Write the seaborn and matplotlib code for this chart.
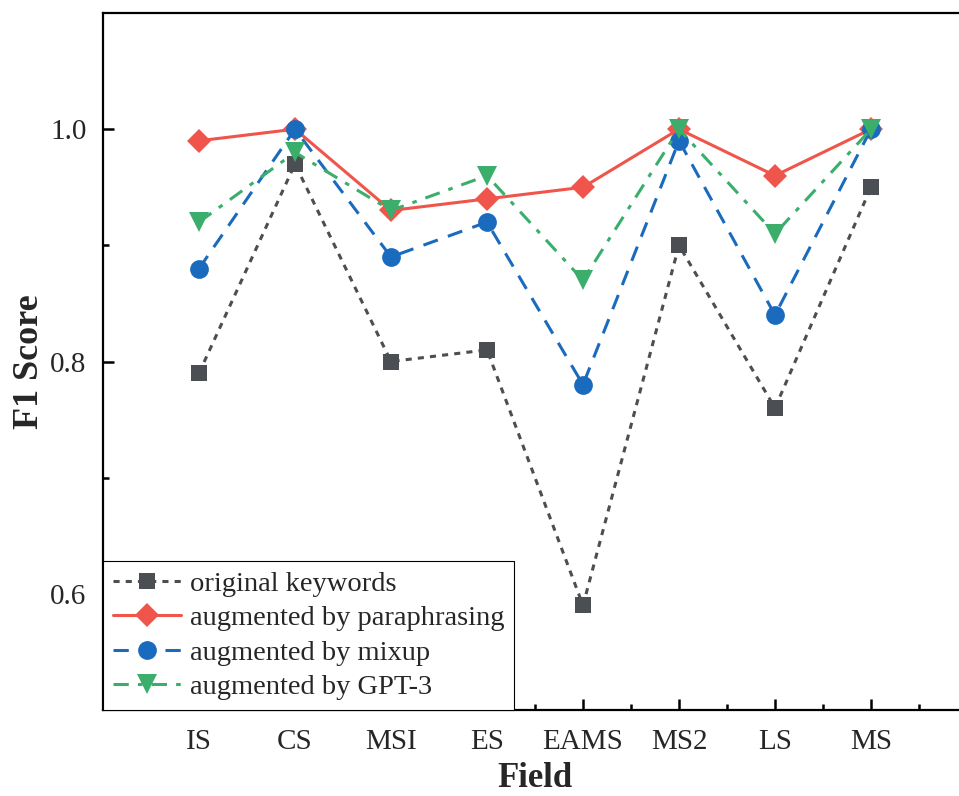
import numpy as np
import pandas as pd
import matplotlib
matplotlib.use("Agg")
import matplotlib.pyplot as plt
import seaborn as sns

# ==================================================
# DATA
# ==================================================

fields = ["IS", "CS", "MSI", "ES", "EAMS", "MS2", "LS", "MS"]

original = [0.79, 0.97, 0.80, 0.81, 0.59, 0.90, 0.76, 0.95]
paraphrasing = [0.99, 1.00, 0.93, 0.94, 0.95, 1.00, 0.96, 1.00]
mixup = [0.88, 1.00, 0.89, 0.92, 0.78, 0.99, 0.84, 1.00]
gpt3 = [0.92, 0.98, 0.93, 0.96, 0.87, 1.00, 0.91, 1.00]

series = [
    ("original keywords", original, "#4b4f53", "s", (0, (2, 2)), 12),
    ("augmented by paraphrasing", paraphrasing, "#f0554b", "D", "-", 12),
    ("augmented by mixup", mixup, "#1a6bbd", "o", (0, (5, 3.5)), 13.5),
    ("augmented by GPT-3", gpt3, "#3bae6c", "v", (0, (5, 3, 1.5, 3)), 14),
]

# ==================================================
# PLOT
# ==================================================

sns.set_style("ticks")
plt.rcParams["font.family"] = ["Liberation Serif", "DejaVu Serif"]

fig = plt.figure(figsize=(9.59, 7.96), dpi=100)
ax = fig.add_axes([103 / 959, 1 - 710 / 796, 864 / 959, (710 - 13) / 796])

xpos = np.arange(1, len(fields) + 1)

for name, values, color, marker, ls, ms in series:
    sns.lineplot(
        x=xpos,
        y=values,
        ax=ax,
        color=color,
        marker=marker,
        markersize=ms,
        markeredgewidth=0,
        linestyle=ls,
        linewidth=2.2,
        label=name,
    )

ax.set_xlim(0, 9)
ax.set_ylim(0.5, 1.1)

ax.set_xticks(xpos)
ax.set_xticklabels(fields)
ax.set_xticks(np.arange(0.5, 9, 1), minor=True)
ax.set_yticks([0.6, 0.8, 1.0])
ax.set_yticklabels(["0.6", "0.8", "1.0"])
ax.set_yticks([0.7, 0.9], minor=True)

ax.tick_params(axis="both", which="major", direction="in", length=8,
               width=1.8, labelsize=21, color="black")
ax.tick_params(axis="x", which="major", pad=14)
ax.tick_params(axis="y", which="major", pad=12)
ax.tick_params(axis="both", which="minor", direction="in", length=4.5,
               width=1.8, color="black")

for spine in ax.spines.values():
    spine.set_linewidth(1.6)
    spine.set_color("black")
    spine.set_visible(True)

ax.set_xlabel("Field", fontsize=25, fontweight="bold")
ax.xaxis.set_label_coords(0.5, -0.075)
ax.set_ylabel("F1 Score", fontsize=26, fontweight="bold")
ax.yaxis.set_label_coords(-0.066, 0.5)

leg = ax.legend(
    loc="lower left",
    borderaxespad=0,
    fontsize=20.5,
    frameon=True,
    framealpha=1,
    fancybox=False,
    handlelength=2.4,
    handletextpad=0.3,
    labelspacing=0.3,
    borderpad=0.35,
)
leg.get_frame().set_edgecolor("black")
leg.get_frame().set_linewidth(0.8)

fig.savefig("out.png", dpi=100)
